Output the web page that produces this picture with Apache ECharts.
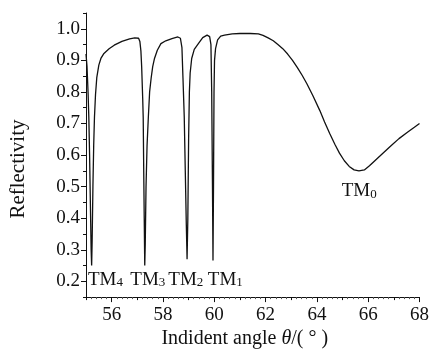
<!DOCTYPE html>
<html>
<head>
<meta charset="utf-8">
<script src="https://cdn.jsdelivr.net/npm/echarts@6/dist/echarts.min.js"></script>
<style>
  html, body { margin: 0; padding: 0; background: #fff; }
  #chart { width: 432px; height: 354px; }
</style>
</head>
<body>
<div id="chart"></div>
<script>
// incident angle (deg) and reflectivity
var angle = [
  55.00, 55.04, 55.08, 55.11, 55.14, 55.17, 55.20, 55.22, 55.24, 55.27,
  55.30, 55.33, 55.37, 55.42, 55.50, 55.58, 55.70, 55.90, 56.10, 56.40,
  56.70, 56.90, 57.05, 57.10, 57.14, 57.17, 57.21, 57.23, 57.25, 57.27,
  57.29, 57.31, 57.34, 57.38, 57.43, 57.48, 57.54, 57.60, 57.67, 57.78,
  57.92, 58.11, 58.35, 58.58, 58.68, 58.74, 58.78, 58.83, 58.87, 58.91,
  58.94, 58.97, 59.00, 59.03, 59.06, 59.12, 59.22, 59.38, 59.55, 59.72,
  59.82, 59.87, 59.90, 59.93, 59.95, 59.97, 59.99, 60.01, 60.05, 60.13,
  60.25, 60.40, 60.70, 61.00, 61.40, 61.72, 61.90, 62.10, 62.30, 62.48,
  62.67, 62.86, 63.05, 63.24, 63.43, 63.61, 63.85, 64.12, 64.30, 64.50,
  64.70, 64.88, 65.07, 65.26, 65.45, 65.64, 65.85, 66.05, 66.27, 66.50,
  66.70, 66.90, 67.20, 67.53, 67.80, 68.00
];
var reflectivity = [
  0.920, 0.880, 0.800, 0.720, 0.600, 0.450, 0.300, 0.250, 0.330, 0.500,
  0.630, 0.720, 0.790, 0.845, 0.885, 0.906, 0.922, 0.937, 0.948, 0.960,
  0.968, 0.971, 0.970, 0.960, 0.930, 0.880, 0.780, 0.720, 0.550, 0.400,
  0.250, 0.320, 0.500, 0.630, 0.720, 0.800, 0.844, 0.880, 0.906, 0.932,
  0.953, 0.962, 0.969, 0.974, 0.970, 0.940, 0.844, 0.720, 0.550, 0.380,
  0.270, 0.400, 0.650, 0.800, 0.860, 0.906, 0.935, 0.953, 0.972, 0.980,
  0.975, 0.950, 0.800, 0.500, 0.266, 0.500, 0.800, 0.900, 0.937, 0.965,
  0.977, 0.980, 0.984, 0.985, 0.985, 0.984, 0.979, 0.971, 0.962, 0.950,
  0.937, 0.920, 0.900, 0.877, 0.852, 0.826, 0.787, 0.740, 0.705, 0.668,
  0.634, 0.606, 0.582, 0.564, 0.553, 0.550, 0.553, 0.566, 0.583, 0.600,
  0.615, 0.630, 0.652, 0.672, 0.688, 0.700
];

var xTicks = [56, 58, 60, 62, 64, 66, 68];
var xOddTicks = [55, 57, 59, 61, 63, 65, 67];
var yTicks = [0.2, 0.3, 0.4, 0.5, 0.6, 0.7, 0.8, 0.9, 1.0];

// mode labels: name, subscript, angle, reflectivity where the label sits
var modeNames = ['TM', 'TM', 'TM', 'TM', 'TM'];
var modeSubs = ['4', '3', '2', '1', '0'];
var modeAngle = [55.76, 57.41, 58.89, 60.43, 65.65];
var modeRefl = [0.205, 0.205, 0.205, 0.205, 0.485];

var serif = 'Liberation Serif';
var ink = '#111';

var chart = echarts.init(document.getElementById('chart'));

var points = angle.map(function (a, i) { return [a, reflectivity[i]]; });

var marks = modeNames.map(function (n, i) {
  return {
    coord: [modeAngle[i], modeRefl[i]],
    symbol: 'circle',
    symbolSize: 0,
    label: {
      show: true,
      position: 'inside',
      formatter: '{t|' + n + '}{s|' + modeSubs[i] + '}'
    }
  };
});

var option = {
  backgroundColor: '#fff',
  animation: false,
  grid: { left: 83, right: 6, top: 13, bottom: 51 },
  xAxis: [{
    type: 'value',
    min: 55,
    max: 68,
    interval: 1,
    name: '{a|Indident angle }{b|θ}{a|/( ° )}',
    nameLocation: 'middle',
    nameGap: 29,
    nameTextStyle: {
      padding: [0, 16, 0, 0],
      rich: {
        a: { fontFamily: serif, fontSize: 20, color: ink },
        b: { fontFamily: serif, fontSize: 20, fontStyle: 'italic', color: ink }
      }
    },
    axisLine: { lineStyle: { color: ink, width: 1 } },
    axisTick: { show: true, customValues: xTicks, length: 5, lineStyle: { color: ink } },
    minorTick: { show: true, splitNumber: 5, length: 2, lineStyle: { color: '#555' } },
    axisLabel: {
      customValues: xTicks,
      margin: 8,
      fontFamily: serif,
      fontSize: 19,
      color: ink
    },
    splitLine: { show: false }
  }, {
    type: 'value',
    min: 55,
    max: 68,
    interval: 1,
    position: 'bottom',
    axisLine: { show: false },
    axisTick: { show: true, customValues: xOddTicks, length: 3, lineStyle: { color: ink } },
    axisLabel: { show: false },
    splitLine: { show: false }
  }],
  yAxis: [{
    type: 'value',
    min: 0.15,
    max: 1.05,
    interval: 0.05,
    name: 'Reflectivity',
    nameLocation: 'middle',
    nameGap: 57,
    nameTextStyle: {
      fontFamily: serif,
      fontSize: 21,
      color: ink,
      padding: [0, 28, 0, 0]
    },
    axisLine: { show: true, lineStyle: { color: ink, width: 1 } },
    axisTick: { show: true, length: 3, lineStyle: { color: ink } },
    axisLabel: { show: false },
    splitLine: { show: false }
  }, {
    type: 'value',
    min: 0.15,
    max: 1.05,
    interval: 0.05,
    position: 'left',
    axisLine: { show: false },
    axisTick: { show: true, customValues: yTicks, length: 5, lineStyle: { color: ink } },
    axisLabel: {
      customValues: yTicks,
      margin: 6,
      fontFamily: serif,
      fontSize: 19,
      color: ink,
      formatter: function (v) { return v.toFixed(1); }
    },
    splitLine: { show: false }
  }],
  series: [{
    type: 'line',
    data: points,
    showSymbol: false,
    symbol: 'none',
    lineStyle: { color: ink, width: 1.3 },
    markPoint: {
      silent: true,
      data: marks,
      label: {
        rich: {
          t: { fontFamily: serif, fontSize: 19, color: ink, lineHeight: 19, verticalAlign: 'top' },
          s: { fontFamily: serif, fontSize: 13, color: ink, lineHeight: 13, verticalAlign: 'bottom', padding: [10, 0, 0, 0] }
        }
      }
    }
  }]
};

chart.setOption(option);
</script>
</body>
</html>
